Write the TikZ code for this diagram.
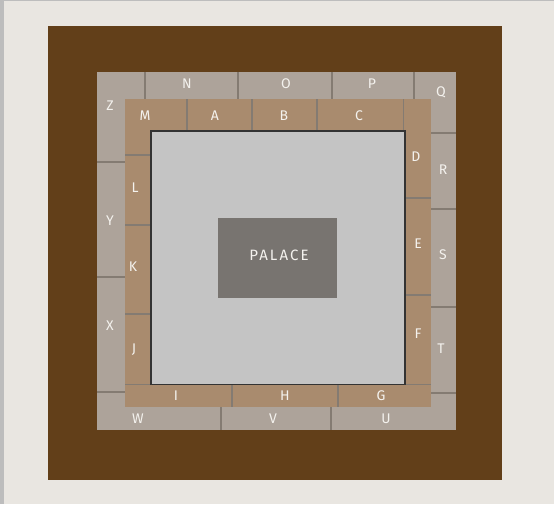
\documentclass[tikz,border=0pt]{standalone}
\usepackage{fontspec}
\setmainfont{Fira Sans}
\newfontfamily\palfont[LetterSpace=14]{Fira Sans}
\definecolor{bg}{HTML}{E9E6E1}
\definecolor{strip}{HTML}{BDBDBD}
\definecolor{moat}{HTML}{623F19}
\definecolor{outerring}{HTML}{ADA39A}
\definecolor{tanring}{HTML}{A98B6E}
\definecolor{court}{HTML}{C4C4C4}
\definecolor{palace}{HTML}{787470}
\definecolor{sep}{HTML}{847B72}
\definecolor{lbl}{HTML}{F4F2EE}
\begin{document}
\begin{tikzpicture}[x=1pt,y=-1pt,
  sepline/.style={draw=sep,line width=1.1pt},
  cell/.style={text=lbl,font=\fontsize{14}{14}\selectfont,inner sep=0pt,anchor=center}]
\useasboundingbox (0,0) rectangle (554,504);
\fill[bg] (0,0) rectangle (554,504);
\fill[strip] (0,0) rectangle (3.5,504);
\fill[strip] (0,0) rectangle (554,1);
% moat
\fill[moat] (48,26) rectangle (502,480);
% outer ring
\fill[outerring] (97,72) rectangle (456,430);
% tan ring
\fill[tanring] (125,99) rectangle (431,407);
% court
\fill[court] (151,131) rectangle (405,384.5);
% outer separators
\draw[sepline] (145,72) -- (145,99);
\draw[sepline] (238,72) -- (238,99);
\draw[sepline] (332,72) -- (332,99);
\draw[sepline] (414,72) -- (414,99);
\draw[sepline] (97,162) -- (125,162);
\draw[sepline] (97,277) -- (125,277);
\draw[sepline] (97,392) -- (125,392);
\draw[sepline] (221,407) -- (221,430);
\draw[sepline] (331,407) -- (331,430);
\draw[sepline] (431,133) -- (456,133);
\draw[sepline] (431,209) -- (456,209);
\draw[sepline] (431,307) -- (456,307);
\draw[sepline] (431,393) -- (456,393);
% tan separators
\draw[sepline] (187,99) -- (187,131);
\draw[sepline] (252,99) -- (252,131);
\draw[sepline] (317,99) -- (317,131);
\draw[sepline] (403.5,99) -- (403.5,131);
\draw[sepline] (125,155) -- (151,155);
\draw[sepline] (125,225) -- (151,225);
\draw[sepline] (125,314) -- (151,314);
\draw[sepline] (125,384.5) -- (431,384.5);
\draw[sepline] (405,198) -- (431,198);
\draw[sepline] (405,295) -- (431,295);
\draw[sepline] (232,384.5) -- (232,407);
\draw[sepline] (338,384.5) -- (338,407);
% court border
\draw[draw=black!80,line width=1.3pt] (151,131) rectangle (405,384.5);
% palace
\fill[palace] (218,218) rectangle (337,298);
\node[text=lbl,font=\palfont\fontsize{15}{15}\selectfont,inner sep=0pt] (pal) at (279,255) {PALACE};
% labels outer
\node[cell] (n) at (187,84) {N};
\node[cell] (o) at (286,84) {O};
\node[cell] (p) at (372,84) {P};
\node[cell] (q) at (441,92) {Q};
\node[cell] (z) at (110,106) {Z};
\node[cell] (r) at (443,170) {R};
\node[cell] (y) at (110,221) {Y};
\node[cell] (s) at (443,255) {S};
\node[cell] (x) at (110,326) {X};
\node[cell] (t) at (441,349) {T};
\node[cell] (w) at (138,419) {W};
\node[cell] (v) at (273,419) {V};
\node[cell] (u) at (386,419) {U};
% labels tan
\node[cell] (m) at (145,116) {M};
\node[cell] (a) at (215,116) {A};
\node[cell] (b) at (284,116) {B};
\node[cell] (c) at (359,116) {C};
\node[cell] (d) at (416,157) {D};
\node[cell] (l) at (135,188) {L};
\node[cell] (e) at (418,244) {E};
\node[cell] (k) at (133,267) {K};
\node[cell] (f) at (418,334) {F};
\node[cell] (j) at (134,350) {J};
\node[cell] (i) at (176,396) {I};
\node[cell] (h) at (285,396) {H};
\node[cell] (g) at (381,396) {G};
\end{tikzpicture}
\end{document}
